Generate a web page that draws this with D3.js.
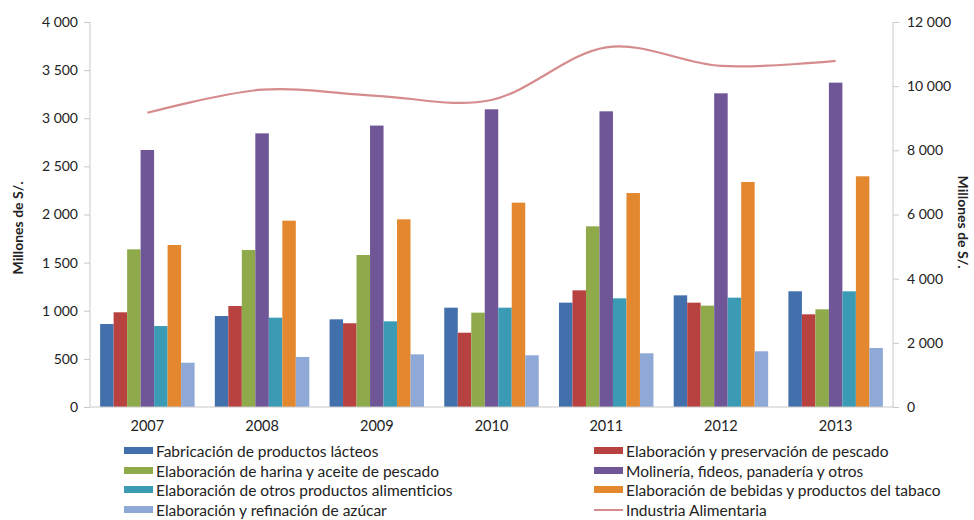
<!DOCTYPE html>
<html>
<head>
<meta charset="utf-8">
<script src="https://cdn.jsdelivr.net/npm/d3@7"></script>
<style>
  html, body { margin: 0; padding: 0; background: #fff; }
  svg text { font-family: Lato, "Open Sans", sans-serif; fill: #222; }
</style>
</head>
<body>
<svg id="chart" width="974" height="520"></svg>
<script>
// Years on the x axis
const years = ["2007", "2008", "2009", "2010", "2011", "2012", "2013"];

// Bar series (left axis, millones de S/.)
const lacteos   = [862, 945, 911, 1032, 1084, 1160, 1202];
const pescado   = [984, 1049, 870, 772, 1212, 1084, 963];
const harina    = [1638, 1631, 1579, 980, 1877, 1053, 1015];
const molineria = [2670, 2843, 2924, 3093, 3072, 3259, 3370];
const otros     = [841, 928, 890, 1032, 1129, 1136, 1202];
const bebidas   = [1683, 1936, 1950, 2123, 2223, 2338, 2397];
const azucar    = [460, 520, 547, 537, 558, 579, 613];

// Line series (right axis)
const industria = [9170, 9890, 9700, 9570, 11210, 10630, 10790];

const leftTicks  = [0, 500, 1000, 1500, 2000, 2500, 3000, 3500, 4000];
const rightTicks = [0, 2000, 4000, 6000, 8000, 10000, 12000];

const barSeries = [
  { name: "Fabricación de productos lácteos", values: lacteos, color: "#4170ac" },
  { name: "Elaboración y preservación de pescado", values: pescado, color: "#b8423f" },
  { name: "Elaboración de harina y aceite de pescado", values: harina, color: "#8eaa4b" },
  { name: "Molinería, fideos, panadería y otros", values: molineria, color: "#6f5697" },
  { name: "Elaboración de otros productos alimenticios", values: otros, color: "#3b9ab4" },
  { name: "Elaboración de bebidas y productos del tabaco", values: bebidas, color: "#e4882f" },
  { name: "Elaboración y refinación de azúcar", values: azucar, color: "#8fa9d6" }
];
const lineSeries = { name: "Industria Alimentaria", values: industria, color: "#d68b8c" };

const svg = d3.select("#chart");
const plot = { left: 90, right: 893, top: 22, bottom: 407 };

const locale = d3.formatLocale({ decimal: ",", thousands: " ", grouping: [3], currency: ["", ""] });
const fmt = locale.format(",d");

const x0 = d3.scaleBand().domain(years).range([plot.left, plot.right])
  .paddingInner(1.5 / 8.5).paddingOuter(0.75 / 8.5);
const x1 = d3.scaleBand().domain(d3.range(barSeries.length)).range([0, x0.bandwidth()]);
const yL = d3.scaleLinear().domain([0, 4000]).range([plot.bottom, plot.top]);
const yR = d3.scaleLinear().domain([0, 12000]).range([plot.bottom, plot.top]);

const axisColor = "#c9c9c9";

// Bars
const groups = svg.append("g").selectAll("g").data(years).join("g")
  .attr("transform", d => `translate(${x0(d)},0)`);
groups.selectAll("rect")
  .data((yr, i) => barSeries.map((s, k) => ({ k, v: s.values[i], color: s.color })))
  .join("rect")
  .attr("x", d => x1(d.k))
  .attr("width", x1.bandwidth())
  .attr("y", d => yL(d.v))
  .attr("height", d => yL(0) - yL(d.v))
  .attr("fill", d => d.color);

// Left axis
const gL = svg.append("g").attr("transform", `translate(${plot.left},0)`)
  .call(d3.axisLeft(yL).tickValues(leftTicks).tickFormat(fmt).tickSize(6).tickPadding(6));
// Right axis
const gR = svg.append("g").attr("transform", `translate(${plot.right},0)`)
  .call(d3.axisRight(yR).tickValues(rightTicks).tickFormat(fmt).tickSize(6).tickPadding(8));
[gL, gR].forEach(g => {
  g.select(".domain").attr("stroke", axisColor).attr("d", `M0,${plot.top}V${plot.bottom}`);
  g.selectAll(".tick line").attr("stroke", axisColor);
  g.selectAll(".tick text").style("font-size", "14px").attr("fill", "#222");
});

// Baseline and year labels
svg.append("line")
  .attr("x1", plot.left).attr("x2", plot.right)
  .attr("y1", yL(0)).attr("y2", yL(0))
  .attr("stroke", axisColor);
const gX = svg.append("g").attr("transform", `translate(0,${plot.bottom})`)
  .call(d3.axisBottom(x0).tickSize(0).tickPadding(14));
gX.select(".domain").remove();
gX.selectAll(".tick text").style("font-size", "14.5px").attr("fill", "#222");

// Industria Alimentaria line
const line = d3.line()
  .x((d, i) => x0(years[i]) + x0.bandwidth() / 2)
  .y(d => yR(d))
  .curve(d3.curveCatmullRom.alpha(0));
svg.append("path")
  .datum(lineSeries.values)
  .attr("d", line)
  .attr("fill", "none")
  .attr("stroke", lineSeries.color)
  .attr("stroke-width", 2.2);

// Axis titles
svg.append("text")
  .attr("transform", `translate(23,228) rotate(-90)`)
  .attr("text-anchor", "middle")
  .style("font-size", "14px").style("font-weight", "bold")
  .text("Millones de S/.");
svg.append("text")
  .attr("transform", `translate(958,222) rotate(90)`)
  .attr("text-anchor", "middle")
  .style("font-size", "14px").style("font-weight", "bold")
  .text("Millones de S/.");

// Legend: two columns, four rows
const legendItems = [
  { ...barSeries[0], col: 0, row: 0 },
  { ...barSeries[1], col: 1, row: 0 },
  { ...barSeries[2], col: 0, row: 1 },
  { ...barSeries[3], col: 1, row: 1 },
  { ...barSeries[4], col: 0, row: 2 },
  { ...barSeries[5], col: 1, row: 2 },
  { ...barSeries[6], col: 0, row: 3 },
  { ...lineSeries, col: 1, row: 3, isLine: true }
];
const colX = [124, 594];
const rowY = [451, 471, 490, 510];
const lg = svg.append("g").selectAll("g").data(legendItems).join("g")
  .attr("transform", d => `translate(${colX[d.col]},${rowY[d.row]})`);
lg.filter(d => !d.isLine).append("rect")
  .attr("x", 0).attr("y", -4).attr("width", 29).attr("height", 7)
  .attr("fill", d => d.color);
lg.filter(d => d.isLine).append("line")
  .attr("x1", 0).attr("x2", 29).attr("y1", 0).attr("y2", 0)
  .attr("stroke", d => d.color).attr("stroke-width", 2);
lg.append("text")
  .attr("x", 32).attr("y", 0).attr("dy", "0.36em")
  .style("font-size", "15.5px")
  .text(d => d.name);
</script>
</body>
</html>
